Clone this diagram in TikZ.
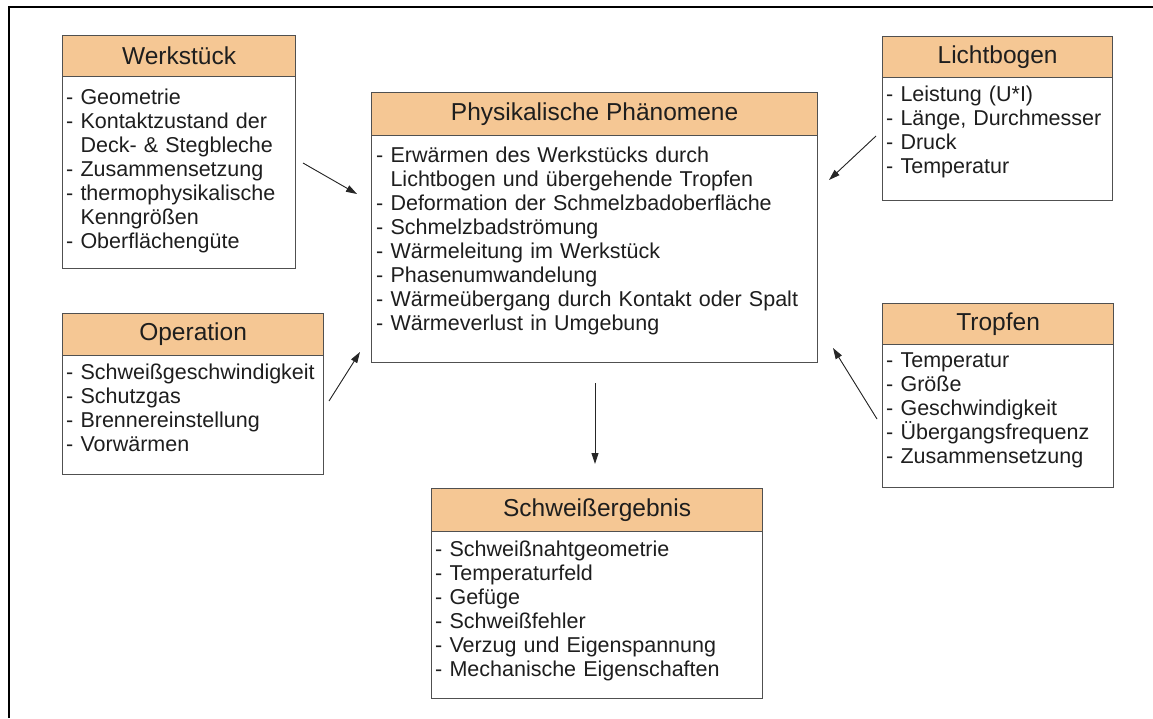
\documentclass[tikz,border=0pt]{standalone}
\usepackage{fontspec}
\setmainfont{Liberation Sans}
\usetikzlibrary{arrows.meta}
\definecolor{hdrfill}{RGB}{245,199,148}
\definecolor{bordc}{RGB}{80,80,80}
\definecolor{txtc}{RGB}{30,30,30}
\newcommand{\ind}{\phantom{- }}
\begin{document}
\begin{tikzpicture}[x=1pt,y=-1pt,
  hdr/.style={draw=bordc, line width=1.2pt, fill=hdrfill, anchor=north west, inner sep=0pt,
    font=\fontsize{24.5}{28}\selectfont, text=txtc},
  bodybox/.style={draw=bordc, line width=1.2pt, fill=white, anchor=north west, inner sep=0pt},
  bodytxt/.style={anchor=base west, inner sep=0pt, align=left, text width=470pt,
    font=\fontsize{21.5}{24}\selectfont, text=txtc},
  arr/.style={-{Triangle[length=11pt,width=7pt]}, line width=0.9pt, draw=black!85, fill=black!85},
  frame/.style={line width=2pt, draw=black}]
\useasboundingbox (0,0) rectangle (1153,718);
% outer frame (cropped: top and left only)
\coordinate (fl) at (9,718);
\coordinate (fc) at (9,7);
\coordinate (fr) at (1153,7);
\draw[frame] (fl) -- (fc) -- (fr);

% Werkstueck
\node[bodybox, minimum width=233pt, minimum height=192pt] (wb) at (62,76) {};
\node[hdr, minimum width=233pt, minimum height=41pt] (wh) at (62,35) {Werkstück};
\node[bodytxt] (wt) at (66,104) {- Geometrie\\- Kontaktzustand der\\\ind Deck- \& Stegbleche\\- Zusammensetzung\\- thermophysikalische\\\ind Kenngrößen\\- Oberflächengüte};

% Physikalische Phaenomene
\node[bodybox, minimum width=446pt, minimum height=227pt] (pb) at (371,135) {};
\node[hdr, minimum width=446pt, minimum height=43pt] (ph) at (371,92) {Physikalische Phänomene};
\node[bodytxt] (pt) at (376,162.5) {- Erwärmen des Werkstücks durch\\\ind Lichtbogen und übergehende Tropfen\\- Deformation der Schmelzbadoberfläche\\- Schmelzbadströmung\\- Wärmeleitung im Werkstück\\- Phasenumwandelung\\- Wärmeübergang durch Kontakt oder Spalt\\- Wärmeverlust in Umgebung};

% Lichtbogen
\node[bodybox, minimum width=230pt, minimum height=123pt] (lb) at (882,77) {};
\node[hdr, minimum width=230pt, minimum height=41pt] (lh) at (882,36) {Lichtbogen};
\node[bodytxt] (lt) at (886,101.5) {- Leistung (U*I)\\- Länge, Durchmesser\\- Druck\\- Temperatur};

% Operation
\node[bodybox, minimum width=261pt, minimum height=119pt] (ob) at (62,355) {};
\node[hdr, minimum width=261pt, minimum height=42pt] (oh) at (62,313) {Operation};
\node[bodytxt] (ot) at (66,379) {- Schweißgeschwindigkeit\\- Schutzgas\\- Brennereinstellung\\- Vorwärmen};

% Tropfen
\node[bodybox, minimum width=231pt, minimum height=143pt] (tb) at (882,344) {};
\node[hdr, minimum width=231pt, minimum height=41pt] (th) at (882,303) {Tropfen};
\node[bodytxt] (tt) at (886,367.5) {- Temperatur\\- Größe\\- Geschwindigkeit\\- Übergangsfrequenz\\- Zusammensetzung};

% Schweissergebnis
\node[bodybox, minimum width=331pt, minimum height=167pt] (sb) at (431,531) {};
\node[hdr, minimum width=331pt, minimum height=43pt] (sh) at (431,488) {Schweißergebnis};
\node[bodytxt] (st) at (435,556.5) {- Schweißnahtgeometrie\\- Temperaturfeld\\- Gefüge\\- Schweißfehler\\- Verzug und Eigenspannung\\- Mechanische Eigenschaften};

% arrows (free-floating between boxes)
\coordinate (a1s) at (303,163); \coordinate (a1e) at (357,194);
\coordinate (a2s) at (876,136); \coordinate (a2e) at (829,180);
\coordinate (a3s) at (329,401); \coordinate (a3e) at (360,352);
\coordinate (a4s) at (877,419); \coordinate (a4e) at (833,348);
\coordinate (a5s) at (595,383); \coordinate (a5e) at (595,464);
\draw[arr] (a1s) -- (a1e);
\draw[arr] (a2s) -- (a2e);
\draw[arr] (a3s) -- (a3e);
\draw[arr] (a4s) -- (a4e);
\draw[arr] (a5s) -- (a5e);
\end{tikzpicture}
\end{document}
